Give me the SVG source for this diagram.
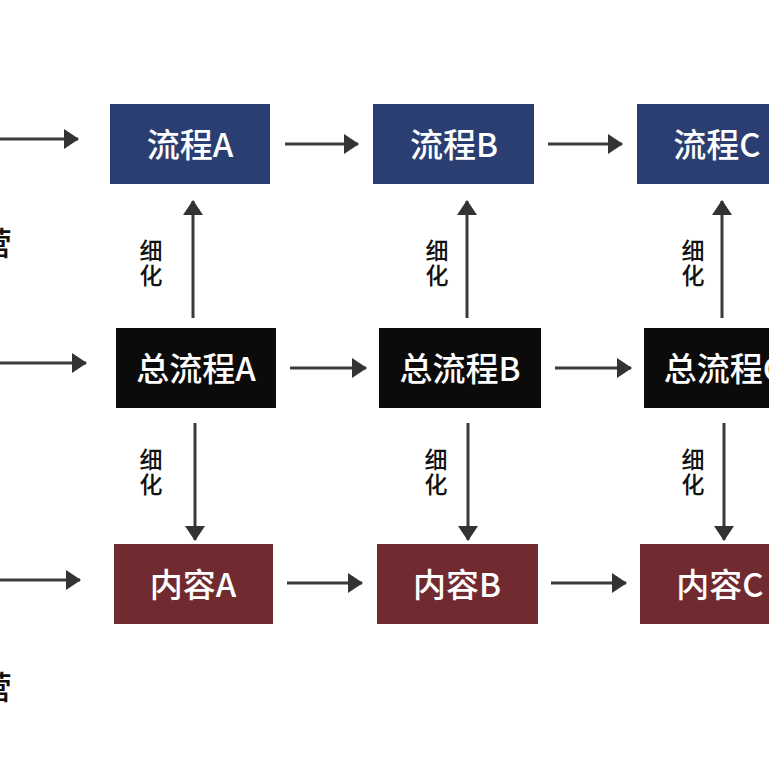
<svg xmlns="http://www.w3.org/2000/svg" width="769" height="768" viewBox="0 0 769 768">
<style>
.lbl{font-family:"Noto Sans CJK SC","Noto Sans",sans-serif;font-size:33px;font-weight:500;fill:#ffffff;text-anchor:middle;dominant-baseline:central}
.sm{font-family:"Noto Sans CJK SC","Noto Sans",sans-serif;font-size:23px;font-weight:500;fill:#111111;writing-mode:vertical-rl;text-orientation:upright;letter-spacing:2px;text-anchor:middle;dominant-baseline:central}
.edge{font-family:"Noto Sans CJK SC","Noto Sans",sans-serif;font-size:32px;font-weight:500;fill:#111111;dominant-baseline:central}
.ar{stroke:#3a3a3a;stroke-width:3;fill:none;marker-end:url(#ah)}
.blue{fill:#2b3e72}.blk{fill:#0b0b0b}.red{fill:#712b30}
</style>
<defs>
<marker id="ah" markerUnits="userSpaceOnUse" markerWidth="16" markerHeight="20" refX="14" refY="10" orient="auto">
<path d="M0,0 L15,10 L0,20 Z" fill="#333333"/>
</marker>
</defs>
<rect width="769" height="768" fill="#ffffff"/>
<g id="edge-texts">
<text class="edge" x="-20" y="241">营</text>
<text class="edge" x="-20" y="685">营</text>
</g>
<g id="connectors">
<line class="ar" x1="0" y1="139" x2="78" y2="139"/>
<line class="ar" x1="285" y1="144" x2="358" y2="144"/>
<line class="ar" x1="548" y1="144" x2="622" y2="144"/>
<line class="ar" x1="0" y1="363" x2="86" y2="363"/>
<line class="ar" x1="290" y1="368" x2="366" y2="368"/>
<line class="ar" x1="555" y1="368" x2="631" y2="368"/>
<line class="ar" x1="0" y1="580" x2="80" y2="580"/>
<line class="ar" x1="287" y1="583" x2="362" y2="583"/>
<line class="ar" x1="551" y1="583" x2="626" y2="583"/>
<line class="ar" x1="193" y1="318" x2="193" y2="201"/>
<line class="ar" x1="467" y1="318" x2="467" y2="201"/>
<line class="ar" x1="722" y1="318" x2="722" y2="201"/>
<line class="ar" x1="195" y1="423" x2="195" y2="540"/>
<line class="ar" x1="468" y1="423" x2="468" y2="540"/>
<line class="ar" x1="724" y1="423" x2="724" y2="540"/>
</g>
<g id="labels">
<text class="sm" x="151" y="264">细化</text>
<text class="sm" x="437" y="264">细化</text>
<text class="sm" x="693" y="264">细化</text>
<text class="sm" x="151" y="473">细化</text>
<text class="sm" x="436" y="473">细化</text>
<text class="sm" x="693" y="473">细化</text>
</g>
<g id="n-liucheng-a"><rect class="blue" x="110" y="104" width="160" height="80"/><text class="lbl" x="190" y="143">流程A</text></g>
<g id="n-liucheng-b"><rect class="blue" x="373" y="104" width="161" height="80"/><text class="lbl" x="454" y="143">流程B</text></g>
<g id="n-liucheng-c"><rect class="blue" x="637" y="104" width="160" height="80"/><text class="lbl" x="717" y="143">流程C</text></g>
<g id="n-zong-a"><rect class="blk" x="116" y="328" width="160" height="80"/><text class="lbl" x="196" y="367">总流程A</text></g>
<g id="n-zong-b"><rect class="blk" x="379" y="328" width="162" height="80"/><text class="lbl" x="460" y="367">总流程B</text></g>
<g id="n-zong-c"><rect class="blk" x="644" y="328" width="160" height="80"/><text class="lbl" x="724" y="367">总流程C</text></g>
<g id="n-neirong-a"><rect class="red" x="114" y="544" width="159" height="80"/><text class="lbl" x="193" y="583">内容A</text></g>
<g id="n-neirong-b"><rect class="red" x="377" y="544" width="161" height="80"/><text class="lbl" x="457" y="583">内容B</text></g>
<g id="n-neirong-c"><rect class="red" x="640" y="544" width="160" height="80"/><text class="lbl" x="720" y="583">内容C</text></g>
</svg>
